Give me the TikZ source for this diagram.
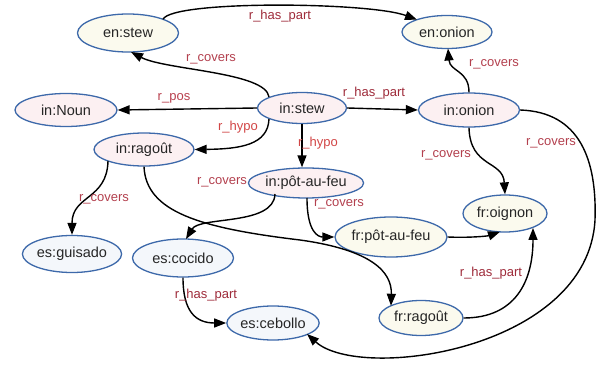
\documentclass[tikz,border=0pt]{standalone}
\usepackage{fontspec}
\setmainfont{Liberation Sans}
\usetikzlibrary{shapes.geometric,arrows.meta}
\definecolor{rim}{HTML}{3D69AA}
\definecolor{infill}{HTML}{FCF0F2}
\definecolor{enfill}{HTML}{FBFAEE}
\definecolor{esfill}{HTML}{F4F7FB}
\definecolor{haspart}{HTML}{9E2B3A}
\definecolor{covers}{HTML}{B3404E}
\definecolor{hypo}{HTML}{D14545}
\definecolor{pos}{HTML}{B8404E}
\begin{document}
\begin{tikzpicture}[x=1pt,y=1pt]
			\tikzstyle{e} = [draw=rim, line width=1.3pt, shape=ellipse, inner sep=0pt, font=\fontsize{14.5}{17}\selectfont, text=black!85]
			\tikzstyle{ein} = [e, fill=infill]
			\tikzstyle{een} = [e, fill=enfill]
			\tikzstyle{ees} = [e, fill=esfill]
			\tikzstyle{rel} = [draw, line width=1.4pt, -{Triangle[length=12pt,width=9pt]}]
			\tikzstyle{lbl} = [font=\fontsize{13}{15}\selectfont, inner sep=0pt]
			\useasboundingbox (0,0) rectangle (608,-371);
			\node[een, minimum width=101pt, minimum height=38pt] (enstew) at (128,-33) {en:stew};
			\node[een, minimum width=90pt, minimum height=33pt] (enonion) at (447,-32) {en:onion};
			\node[ein, minimum width=102pt, minimum height=33pt] (inNoun) at (66,-110) {in:Noun};
			\node[ein, minimum width=89pt, minimum height=31pt] (instew) at (302,-108) {in:stew};
			\node[ein, minimum width=101pt, minimum height=34pt] (inonion) at (469,-110) {in:onion};
			\node[ein, minimum width=100pt, minimum height=33pt] (inragout) at (144,-149.5) {in:ragoût};
			\node[ein, minimum width=90pt, minimum height=30pt] (inpot) at (306,-183) {in:pôt-au-feu};
			\node[een, minimum width=84pt, minimum height=37pt] (froignon) at (505,-213.5) {fr:oignon};
			\node[een, minimum width=112pt, minimum height=40pt] (frpot) at (391,-237) {fr:pôt-au-feu};
			\node[een, minimum width=84pt, minimum height=35pt] (frragout) at (421,-318) {fr:ragoût};
			\node[ees, minimum width=95pt, minimum height=37pt] (esguisado) at (72,-254) {es:guisado};
			\node[ees, minimum width=101pt, minimum height=38pt] (escocido) at (183,-258) {es:cocido};
			\node[ees, minimum width=90pt, minimum height=34pt] (escebollo) at (273,-323) {es:cebollo};

			\draw[rel] ([shift={(35,13.7)}]enstew.center) .. controls (172,0) and (370,-2) .. ([shift={(-30,12.3)}]enonion.center)
				node[lbl, text=haspart] at (280,-16) {r\_has\_part};
			\draw[rel] ([shift={(-33,11)}]instew.center) .. controls (266,-72) and (165,-70) .. ([shift={(3,-19)}]enstew.center)
				node[lbl, text=covers] at (211,-59) {r\_covers};
			\draw[rel] (instew.west) -- (inNoun.east)
				node[lbl, text=pos] at (174,-98) {r\_pos};
			\draw[rel] ([shift={(-33,-11)}]instew.center) .. controls (268,-145) and (240,-149) .. (inragout.east)
				node[lbl, text=hypo] at (238,-127) {r\_hypo};
			\draw[rel] (instew.south) -- (inpot.north -| instew.south)
				node[lbl, text=hypo] at (318,-143) {r\_hypo};
			\draw[rel] (instew.east) -- (inonion.west)
				node[lbl, text=haspart] at (374,-93) {r\_has\_part};
			\draw[rel] (inonion.north) .. controls (469,-70) and (450,-72) .. ([shift={(1,-16.5)}]enonion.center)
				node[lbl, text=covers] at (494,-64) {r\_covers};
			\draw[rel] (inonion.south) .. controls (470,-168) and (503,-160) .. (froignon.north)
				node[lbl, text=covers] at (446,-155) {r\_covers};
			\draw[rel] (inonion.east) .. controls (580,-112) and (597,-160) .. (595,-220)
				.. controls (588,-350) and (360,-382) .. ([shift={(34,-11)}]escebollo.center)
				node[lbl, text=covers] at (551,-143) {r\_covers};
			\draw[rel] ([shift={(-36,-11.5)}]inragout.center) .. controls (107,-200) and (72,-195) .. (esguisado.north)
				node[lbl, text=covers] at (104,-199) {r\_covers};
			\draw[rel] (inragout.south) .. controls (146,-212) and (200,-228) .. (300,-240)
				.. controls (372,-250) and (392,-272) .. ([shift={(-30,12.2)}]frragout.center)
				node[lbl, text=covers] at (222,-182) {r\_covers};
			\draw[rel] ([shift={(-31,-11)}]inpot.center) .. controls (274,-226) and (200,-216) .. ([shift={(3,19)}]escocido.center);
			\draw[rel] ([shift={(1,-15)}]inpot.center) .. controls (307,-232) and (318,-237) .. (frpot.west)
				node[lbl, text=covers] at (339,-204) {r\_covers};
			\draw[rel] (frpot.east) .. controls (470,-238) and (488,-236) .. ([shift={(-5,-18.3)}]froignon.center);
			\draw[rel] (frragout.east) .. controls (515,-318) and (533,-282) .. (533,-228)
				node[lbl, text=haspart] at (491,-273) {r\_has\_part};
			\draw[rel] (escocido.south) .. controls (183,-312) and (196,-323) .. (escebollo.west)
				node[lbl, text=haspart] at (206,-295) {r\_has\_part};
\end{tikzpicture}
\end{document}
